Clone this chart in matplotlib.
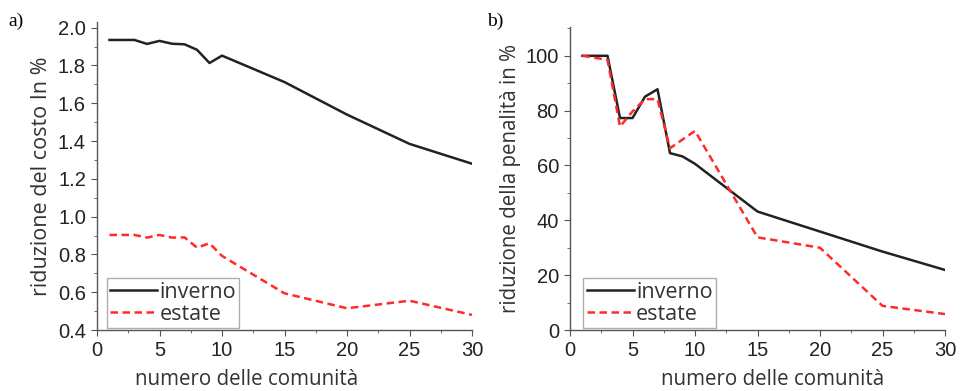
import matplotlib.pyplot as plt
from matplotlib.ticker import MultipleLocator

# numero delle comunità
x_comm = [1, 2, 3, 4, 5, 6, 7, 8, 9, 10, 15, 20, 25, 30]

# a) riduzione del costo in %
costo_inverno = [1.935, 1.935, 1.935, 1.914, 1.930, 1.915, 1.912, 1.883, 1.813, 1.852,
                 1.712, 1.540, 1.385, 1.280]
costo_estate = [0.903, 0.903, 0.903, 0.889, 0.903, 0.889, 0.890, 0.836, 0.859, 0.792,
                0.594, 0.515, 0.555, 0.480]

# b) riduzione della penalità in %
x_pen = [1, 3, 4, 5, 6, 7, 8, 9, 10, 15, 20, 25, 30]
pen_inverno = [100, 100, 77.3, 77.3, 85.1, 87.8, 64.5, 63.3, 60.6, 43.2, 35.9, 28.6, 21.9]
x_pen_est = [1, 3, 4, 5, 6, 7, 8, 10, 15, 20, 25, 30]
pen_estate = [100, 98.5, 74.2, 79.7, 84.2, 84.2, 66.3, 72.6, 33.8, 30.0, 8.8, 5.8]

plt.rcParams['font.family'] = ['Liberation Sans', 'DejaVu Sans']

fig = plt.figure(figsize=(9.61, 3.91), dpi=100)
ax1 = fig.add_axes([97 / 961, 61 / 391, 375 / 961, 308 / 391])
ax2 = fig.add_axes([570 / 961, 61 / 391, 375 / 961, 303 / 391])

black = '#222222'
red = '#ff2a2a'
spine = '#555555'
sans = ['Open Sans', 'DejaVu Sans']


def style(ax, xlab_pos, leg_x):
    for s in ['top', 'right']:
        ax.spines[s].set_visible(False)
    for s in ['left', 'bottom']:
        ax.spines[s].set_color(spine)
        ax.spines[s].set_linewidth(1.0)
    ax.set_xlim(0, 30)
    ax.xaxis.set_major_locator(MultipleLocator(5))
    ax.xaxis.set_minor_locator(MultipleLocator(2.5))
    ax.tick_params(which='major', length=4, color=spine, labelsize=14.5,
                   labelcolor='#222222', pad=4)
    ax.tick_params(which='minor', length=2.5, color=spine)
    ax.set_xlabel('numero delle comunità', fontsize=14.8, color='#333333',
                  family=sans, labelpad=7)
    ax.xaxis.set_label_coords(xlab_pos, -0.128)
    leg = ax.legend(loc='lower left', bbox_to_anchor=(leg_x, 0.0),
                    frameon=True, fancybox=False, handlelength=2.2, handletextpad=0.1,
                    borderpad=0.15, labelspacing=0.05, borderaxespad=0.1,
                    prop={'family': sans, 'size': 15.5})
    leg.get_frame().set_edgecolor('#999999')
    leg.get_frame().set_linewidth(1.0)
    for t in leg.get_texts():
        t.set_color('#333333')


ax1.plot(x_comm, costo_inverno, color=black, lw=1.8, label='inverno')
ax1.plot(x_comm, costo_estate, color=red, lw=1.8, ls=(0, (3, 1.8)), label='estate')
ax1.set_ylim(0.4, 2.03)
ax1.yaxis.set_major_locator(MultipleLocator(0.2))
ax1.yaxis.set_minor_locator(MultipleLocator(0.1))
ax1.yaxis.set_major_formatter(lambda v, p: f'{v:.1f}')
ax1.set_ylabel('riduzione del costo In %', fontsize=15.5, color='#333333',
               family=sans, labelpad=4)
style(ax1, 0.40, 0.02)

ax2.plot(x_pen, pen_inverno, color=black, lw=1.8, label='inverno')
ax2.plot(x_pen_est, pen_estate, color=red, lw=1.8, ls=(0, (3, 1.8)), label='estate')
ax2.set_ylim(0, 110.5)
ax2.yaxis.set_major_locator(MultipleLocator(20))
ax2.yaxis.set_minor_locator(MultipleLocator(10))
ax2.set_ylabel('riduzione della penalità in %', fontsize=14.8, color='#333333',
               family=sans, labelpad=3)
style(ax2, 0.54, 0.03)

fig.text(8 / 961, 1 - 26 / 391, 'a)', fontsize=14, family=['Liberation Serif', 'DejaVu Serif'])
fig.text(487 / 961, 1 - 26 / 391, 'b)', fontsize=14, family=['Liberation Serif', 'DejaVu Serif'])

fig.savefig('out.png', dpi=100)
